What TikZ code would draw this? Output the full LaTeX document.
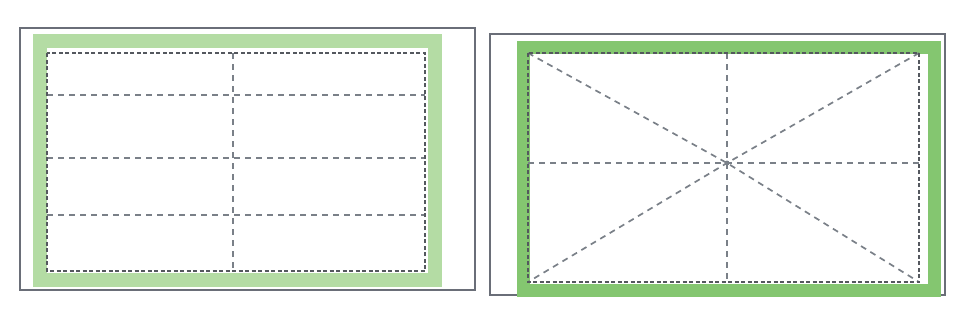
\documentclass[tikz,border=0pt]{standalone}
\usepackage{tikz}
\definecolor{framegray}{HTML}{6A6E78}
\definecolor{lightgreen}{HTML}{B4DCA4}
\definecolor{midgreen}{HTML}{84C670}
\definecolor{dashgray}{HTML}{54585E}
\definecolor{guidegray}{HTML}{7A8088}
\tikzset{
  outerframe/.style={draw=framegray, line width=2pt},
  bandleft/.style={draw=lightgreen, line width=14pt},
  bandright/.style={draw=midgreen, line width=13pt},
  dashborder/.style={draw=dashgray, line width=2.4pt, dash pattern=on 4pt off 2.5pt},
  guide/.style={draw=guidegray, line width=1.7pt, dash pattern=on 6pt off 5pt},
}
\begin{document}
\begin{tikzpicture}[x=1pt,y=-1pt]
\useasboundingbox (0,0) rectangle (954,333);
% ---------- left panel ----------
\coordinate (LA) at (47,53);
\coordinate (LB) at (425,271);
\draw[outerframe] (20,28) rectangle (475,290);
\draw[bandleft] (40,41) rectangle (435,280);
\draw[guide] (233,53) -- (233,271);
\draw[guide] (47,95) -- (425,95);
\draw[guide] (47,158) -- (425,158);
\draw[guide] (47,215) -- (425,215);
\draw[dashborder] (LA) rectangle (LB);
% ---------- right panel ----------
\coordinate (RA) at (528,53);
\coordinate (RB) at (919,53);
\coordinate (RC) at (919,282);
\coordinate (RD) at (528,282);
\coordinate (RM) at (727,163);
\draw[outerframe] (490,34) rectangle (945,295);
\draw[bandright] (523,47.5) rectangle (934.5,290.5);
\draw[guide] (727,53) -- (727,282);
\draw[guide] (528,163) -- (919,163);
\draw[guide] (RA) -- (RM) -- (RC);
\draw[guide] (RB) -- (RM) -- (RD);
\fill[guidegray] (RM) circle (2.5pt);
\draw[dashborder] (RA) rectangle (RC);
\end{tikzpicture}
\end{document}
